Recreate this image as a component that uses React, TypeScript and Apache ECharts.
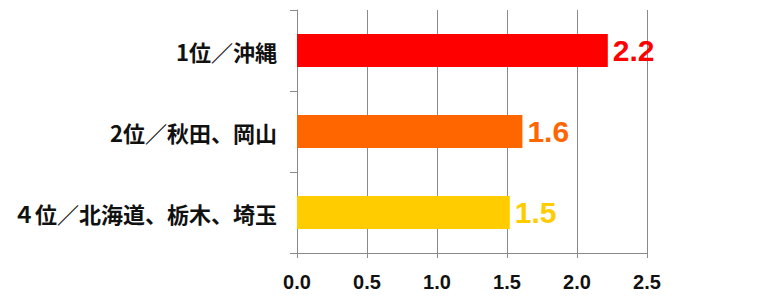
import React, { useEffect, useRef } from "react";
import * as echarts from "echarts";

const categories = ["1位／沖縄", "2位／秋田、岡山", "４位／北海道、栃木、埼玉"];
const values = [2.22, 1.61, 1.52];
const barColors = ["#FF0000", "#FF6600", "#FFCC00"];
const xTicks = { min: 0, max: 2.5, interval: 0.5 };

export default function App() {
  const ref = useRef<HTMLDivElement>(null);
  useEffect(() => {
    if (!ref.current) return;
    const chart = echarts.init(ref.current, null, { renderer: "svg" });
    const gray = "#8a8a8a";
    chart.setOption({
      animation: false,
      backgroundColor: "#ffffff",
      grid: { left: 297, right: 119, top: 10, bottom: 44, containLabel: false },
      xAxis: {
        type: "value",
        min: xTicks.min,
        max: xTicks.max,
        interval: xTicks.interval,
        axisLine: { show: true, lineStyle: { color: gray, width: 1 } },
        axisTick: { show: true, length: 5, lineStyle: { color: gray } },
        splitLine: { show: true, lineStyle: { color: gray, width: 1 } },
        axisLabel: {
          margin: 19,
          color: "#111",
          fontSize: 20,
          fontWeight: "bold",
          fontFamily: "Liberation Sans, Arial, sans-serif",
          formatter: (v: number) => v.toFixed(1),
        },
      },
      yAxis: {
        type: "category",
        data: categories,
        inverse: true,
        axisLine: { show: true, lineStyle: { color: gray, width: 1 } },
        axisTick: { show: true, length: 7, lineStyle: { color: gray } },
        splitLine: { show: false },
        axisLabel: {
          margin: 20,
          color: "#111",
          fontSize: 22,
          fontWeight: "bold",
          fontFamily: "Noto Sans CJK JP, sans-serif",
        },
      },
      series: [
        {
          type: "bar",
          barWidth: 33,
          data: values.map((v, i) => ({
            value: v,
            itemStyle: { color: barColors[i] },
            label: { color: barColors[i] },
          })),
          label: {
            show: true,
            position: "right",
            distance: 5,
            fontSize: 30,
            fontWeight: "bold",
            fontFamily: "Liberation Sans, Arial, sans-serif",
            formatter: (p: any) => Number(p.value).toFixed(1),
          },
        },
      ],
    });
    return () => chart.dispose();
  }, []);
  return (
    <div
      ref={ref}
      style={{ position: "fixed", left: 0, top: 0, width: 766, height: 297 }}
    />
  );
}
